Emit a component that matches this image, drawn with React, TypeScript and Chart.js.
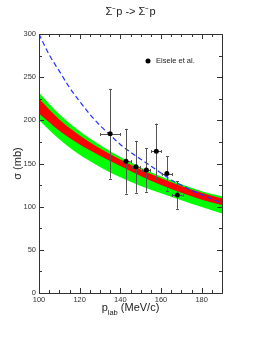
import React, { useEffect, useRef } from "react";
import { Chart, registerables } from "chart.js";
Chart.register(...registerables);

const TITLE = "Σ⁻p -> Σ⁻p";
const Y_TITLE = "σ (mb)";
const X_TITLE_MAIN = "p";
const X_TITLE_SUB = "lab";
const X_TITLE_REST = " (MeV/c)";
const LEGEND_LABEL = "Eisele et al.";

const X_TICKS = [100, 120, 140, 160, 180];
const Y_TICKS = [0, 50, 100, 150, 200, 250, 300];

// Eisele et al. data
const DATA_P = [135.0, 142.8, 147.7, 152.8, 157.7, 162.9, 168.0];
const DATA_SIGMA = [184.5, 152.6, 146.2, 142.4, 164.3, 138.3, 113.5];
const DATA_DSIGMA = [52, 37.5, 30, 25, 32, 20, 16];
const DATA_DP = [5, 2.3, 2, 2, 2.5, 2.6, 2.7];

// blue dashed curve
const CURVE_P = [100, 105, 110, 115, 120, 125, 130, 135, 140, 145, 150, 155, 160, 165, 170, 175, 180, 185, 190];
const CURVE_SIGMA = [300, 276, 257, 238, 222, 207, 194, 183, 172, 163, 155, 147, 139, 131, 125, 119, 114, 109, 104];

// bands
const BAND_P = [100, 110, 120, 130, 140, 150, 160, 170, 180, 190];
const GREEN_HI = [232, 207, 187.5, 171.5, 157.5, 145.5, 135, 126, 118, 112];
const RED_HI = [225, 201, 182.5, 167.5, 154.5, 143, 133, 124, 116, 109.5];
const RED_LO = [208, 188, 172, 159, 147, 135.5, 125, 116, 108, 102];
const GREEN_LO = [200, 178, 160, 146, 134, 124, 115.5, 107.5, 99.5, 92];

const FONT = "'Liberation Sans', Arial, sans-serif";

const pts = (xs: number[], ys: number[]) => xs.map((x, i) => ({ x, y: ys[i] }));

export default function App() {
  const ref = useRef<HTMLCanvasElement | null>(null);
  useEffect(() => {
    if (!ref.current) return;

    const errorBars = {
      id: "errorBars",
      beforeDatasetDraw(chart: any, args: any) {
        if (args.index !== 0) return;
        const { ctx, scales } = chart;
        const x = scales.x, y = scales.y;
        ctx.save();
        ctx.strokeStyle = "#555";
        ctx.lineWidth = 1;
        ctx.beginPath();
        DATA_P.forEach((p, i) => {
          const px = Math.round(x.getPixelForValue(p)) + 0.5;
          const py = Math.round(y.getPixelForValue(DATA_SIGMA[i])) + 0.5;
          const yt = y.getPixelForValue(DATA_SIGMA[i] + DATA_DSIGMA[i]);
          const yb = y.getPixelForValue(DATA_SIGMA[i] - DATA_DSIGMA[i]);
          const xl = x.getPixelForValue(p - DATA_DP[i]);
          const xr = x.getPixelForValue(p + DATA_DP[i]);
          ctx.moveTo(px, yt); ctx.lineTo(px, yb);
          ctx.moveTo(px - 1.5, Math.round(yt) + 0.5); ctx.lineTo(px + 1.5, Math.round(yt) + 0.5);
          ctx.moveTo(px - 1.5, Math.round(yb) + 0.5); ctx.lineTo(px + 1.5, Math.round(yb) + 0.5);
          ctx.moveTo(xl, py); ctx.lineTo(xr, py);
          ctx.moveTo(Math.round(xl) + 0.5, py - 1.5); ctx.lineTo(Math.round(xl) + 0.5, py + 1.5);
          ctx.moveTo(Math.round(xr) + 0.5, py - 1.5); ctx.lineTo(Math.round(xr) + 0.5, py + 1.5);
        });
        ctx.stroke();
        ctx.restore();
      },
    };

    const frame = {
      id: "frame",
      afterDatasetsDraw(chart: any) {
        const { ctx, chartArea, scales } = chart;
        const { left, right, top, bottom } = chartArea;
        const x = scales.x, y = scales.y;
        ctx.save();
        ctx.strokeStyle = "#333";
        ctx.lineWidth = 1;
        ctx.beginPath();
        for (let v = 100; v <= 190; v += 5) {
          const px = Math.round(x.getPixelForValue(v)) + 0.5;
          const len = v % 20 === 0 ? 5 : 3;
          ctx.moveTo(px, bottom); ctx.lineTo(px, bottom - len);
          ctx.moveTo(px, top); ctx.lineTo(px, top + len);
        }
        for (let v = 0; v <= 300; v += 25) {
          const py = Math.round(y.getPixelForValue(v)) + 0.5;
          const len = v % 50 === 0 ? 5 : 3;
          ctx.moveTo(left, py); ctx.lineTo(left + len, py);
          ctx.moveTo(right, py); ctx.lineTo(right - len, py);
        }
        ctx.stroke();
        ctx.strokeRect(Math.round(left) + 0.5, Math.round(top) + 0.5, Math.round(right - left), Math.round(bottom - top));
        ctx.restore();

        const cx = (left + right) / 2;

        // title
        ctx.save();
        ctx.fillStyle = "#222";
        ctx.font = `11px ${FONT}`;
        ctx.textAlign = "center";
        ctx.textBaseline = "middle";
        ctx.fillText(TITLE, cx, 12);
        ctx.restore();

        // legend
        const lx = right - 74, ly = top + 27;
        ctx.save();
        ctx.fillStyle = "#000";
        ctx.beginPath();
        ctx.arc(lx, ly, 2.5, 0, Math.PI * 2);
        ctx.fill();
        ctx.fillStyle = "#222";
        ctx.font = `7.5px ${FONT}`;
        ctx.textBaseline = "middle";
        ctx.textAlign = "left";
        ctx.fillText(LEGEND_LABEL, lx + 8, ly);
        ctx.restore();

        // x title with subscript
        ctx.save();
        ctx.fillStyle = "#222";
        ctx.textBaseline = "alphabetic";
        ctx.textAlign = "left";
        const mainF = `11px ${FONT}`, subF = `7.5px ${FONT}`;
        ctx.font = mainF; const w1 = ctx.measureText(X_TITLE_MAIN).width;
        ctx.font = subF; const w2 = ctx.measureText(X_TITLE_SUB).width;
        ctx.font = mainF; const w3 = ctx.measureText(X_TITLE_REST).width;
        let sx = cx - (w1 + w2 + w3) / 2;
        const by = bottom + 18;
        ctx.font = mainF; ctx.fillText(X_TITLE_MAIN, sx, by); sx += w1;
        ctx.font = subF; ctx.fillText(X_TITLE_SUB, sx, by + 3.5); sx += w2;
        ctx.font = mainF; ctx.fillText(X_TITLE_REST, sx, by);
        ctx.restore();
      },
    };

    const chart = new Chart(ref.current, {
      type: "line",
      data: {
        datasets: [
          {
            label: LEGEND_LABEL,
            data: pts(DATA_P, DATA_SIGMA),
            showLine: false,
            pointRadius: 2.5,
            pointBackgroundColor: "#000",
            pointBorderColor: "#000",
            pointBorderWidth: 0,
          },
          {
            label: "curve",
            data: pts(CURVE_P, CURVE_SIGMA),
            borderColor: "#2233ff",
            borderWidth: 1.2,
            borderDash: [5, 3],
            pointRadius: 0,
            cubicInterpolationMode: "monotone",
            fill: false,
          },
          {
            label: "redHi",
            data: pts(BAND_P, RED_HI),
            borderWidth: 0,
            borderColor: "rgba(0,0,0,0)",
            pointRadius: 0,
            cubicInterpolationMode: "monotone",
            fill: { target: "+1" },
            backgroundColor: "#ff0000",
          },
          {
            label: "redLo",
            data: pts(BAND_P, RED_LO),
            borderWidth: 0,
            borderColor: "rgba(0,0,0,0)",
            pointRadius: 0,
            cubicInterpolationMode: "monotone",
            fill: false,
          },
          {
            label: "greenHi",
            data: pts(BAND_P, GREEN_HI),
            borderWidth: 0,
            borderColor: "rgba(0,0,0,0)",
            pointRadius: 0,
            cubicInterpolationMode: "monotone",
            fill: { target: "+1" },
            backgroundColor: "#00ff00",
          },
          {
            label: "greenLo",
            data: pts(BAND_P, GREEN_LO),
            borderWidth: 0,
            borderColor: "rgba(0,0,0,0)",
            pointRadius: 0,
            cubicInterpolationMode: "monotone",
            fill: false,
          },
        ],
      },
      options: {
        responsive: false,
        animation: false,
        devicePixelRatio: 1,
        layout: { padding: { left: 0, right: 48, top: 34, bottom: 0 } },
        plugins: {
          legend: { display: false },
          tooltip: { enabled: false },
          title: { display: false },
        },
        scales: {
          x: {
            type: "linear",
            min: 100,
            max: 190,
            grid: { display: false, drawTicks: false },
            border: { display: false },
            afterBuildTicks: (s: any) => { s.ticks = X_TICKS.map((v) => ({ value: v })); },
            afterFit: (s: any) => { s.height = 56; },
            ticks: { color: "#333", font: { family: FONT, size: 7.5 }, padding: 2, maxRotation: 0, autoSkip: false },
          },
          y: {
            type: "linear",
            min: 0,
            max: 300,
            grid: { display: false, drawTicks: false },
            border: { display: false },
            afterBuildTicks: (s: any) => { s.ticks = Y_TICKS.map((v) => ({ value: v })); },
            afterFit: (s: any) => { s.width = 39; },
            ticks: { color: "#333", font: { family: FONT, size: 7.5 }, padding: 3 },
            title: {
              display: true,
              text: Y_TITLE,
              color: "#222",
              font: { family: FONT, size: 11 },
              padding: { top: 11, bottom: 0 },
            },
          },
        },
      },
      plugins: [errorBars, frame],
    } as any);
    return () => chart.destroy();
  }, []);

  return (
    <div style={{ position: "absolute", left: 0, top: 0, width: 270, height: 349, background: "#fff" }}>
      <canvas ref={ref} width={270} height={349} />
    </div>
  );
}
